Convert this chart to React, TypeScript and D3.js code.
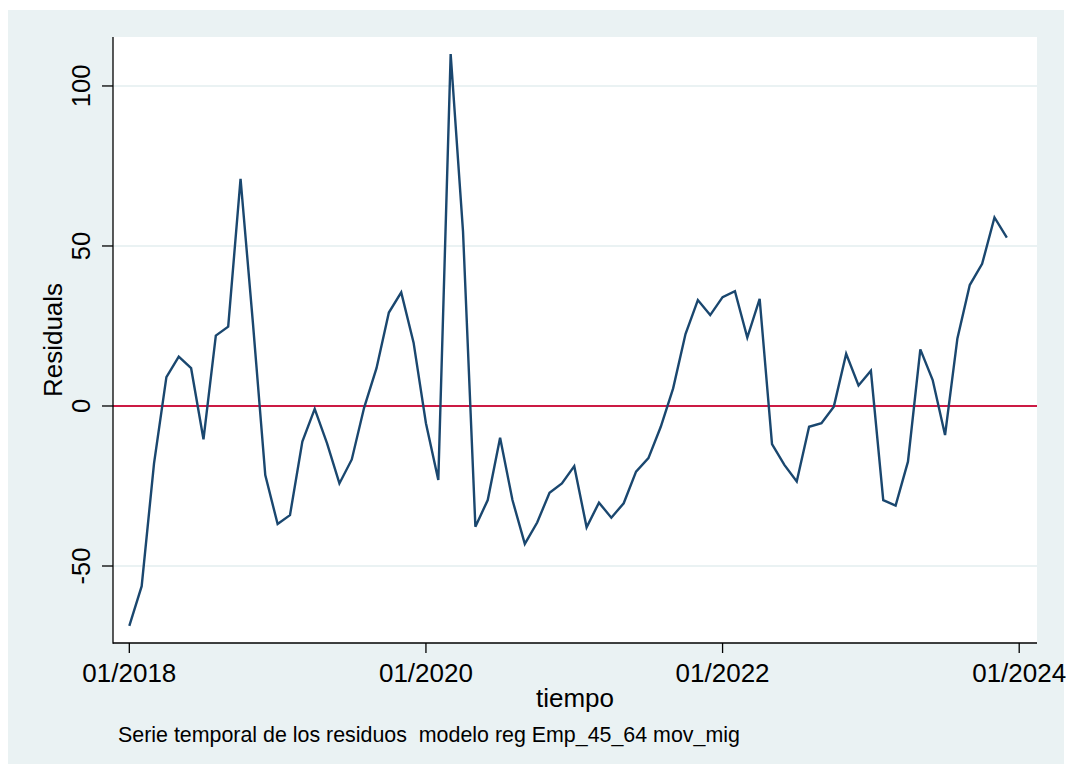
import { useEffect, useRef } from 'react';
import * as d3 from 'd3';

// monthly residuals, 01/2018 .. 12/2023
const residuals = [
  -68.7, -56.3, -17.9, 9.0, 15.4, 11.8, -10.4, 22.0, 24.8, 71.0, 26.0, -21.6,
  -36.9, -34.1, -11.1, -0.9, -11.7, -24.2, -16.7, -0.5, 11.8, 29.2, 35.5, 19.8,
  -5.4, -23.1, 110.0, 54.5, -37.7, -29.4, -9.9, -29.4, -43.1, -36.4, -27.1, -24.2,
  -18.8, -37.9, -30.2, -34.9, -30.4, -20.5, -16.3, -6.5, 5.5, 22.5, 33.1, 28.4,
  34.0, 35.9, 21.4, 33.5, -11.9, -18.4, -23.6, -6.5, -5.4, -0.2, 16.3, 6.4,
  11.0, -29.4, -31.1, -17.4, 17.7, 8.1, -9.1, 21.1, 37.8, 44.4, 58.9, 52.6,
];
const startYear = 2018;
const xTicks = [0, 24, 48, 72]; // months since 01/2018
const yTicks = [-50, 0, 50, 100];
const gridValues = [-50, 50, 100];
const xTitle = 'tiempo';
const yTitle = 'Residuals';
const note = 'Serie temporal de los residuos  modelo reg Emp_45_64 mov_mig';

export default function App() {
  const svgRef = useRef<SVGSVGElement>(null);

  useEffect(() => {
    if (!svgRef.current) return;
    const svg = d3.select(svgRef.current);
    svg.selectAll('*').remove();

    const width = 1066;
    const height = 771;
    const plot = { left: 113, right: 1037, top: 37, bottom: 643 };
    const font = '"Liberation Sans", Arial, Helvetica, sans-serif';

    svg.attr('width', width).attr('height', height).attr('viewBox', `0 0 ${width} ${height}`);

    // outer graph region
    svg.append('rect').attr('x', 8).attr('y', 10).attr('width', 1056).attr('height', 754).attr('fill', '#eaf2f3');
    svg.append('rect')
      .attr('x', plot.left).attr('y', plot.top)
      .attr('width', plot.right - plot.left).attr('height', plot.bottom - plot.top)
      .attr('fill', '#ffffff');

    const x = d3.scaleLinear().domain([-1.32, 73.44]).range([plot.left, plot.right]);
    const y = d3.scaleLinear().domain([-74.06, 115.3]).range([plot.bottom, plot.top]);

    // Gridlines
    svg.append('g')
      .selectAll('line')
      .data(gridValues)
      .join('line')
      .attr('x1', plot.left).attr('x2', plot.right)
      .attr('y1', (d) => y(d)).attr('y2', (d) => y(d))
      .attr('stroke', '#eaf2f3')
      .attr('stroke-width', 2);

    // zero reference line
    svg.append('line')
      .attr('x1', plot.left).attr('x2', plot.right)
      .attr('y1', y(0)).attr('y2', y(0))
      .attr('stroke', '#cc1a44')
      .attr('stroke-width', 2.2);

    // series
    const line = d3.line<number>()
      .x((_, i) => x(i))
      .y((d) => y(d));
    svg.append('path')
      .datum(residuals)
      .attr('d', line)
      .attr('fill', 'none')
      .attr('stroke', '#1a476f')
      .attr('stroke-width', 2.4)
      .attr('stroke-linejoin', 'miter');

    // Axes
    const axes = svg.append('g').attr('stroke', '#000').attr('stroke-width', 1.3);
    axes.append('line').attr('x1', plot.left).attr('x2', plot.left).attr('y1', plot.top).attr('y2', plot.bottom + 0.65);
    axes.append('line').attr('x1', plot.left).attr('x2', plot.right).attr('y1', plot.bottom).attr('y2', plot.bottom);

    yTicks.forEach((t) => {
      axes.append('line').attr('x1', plot.left - 11).attr('x2', plot.left).attr('y1', y(t)).attr('y2', y(t));
      svg.append('text')
        .attr('transform', `translate(90, ${y(t)}) rotate(-90)`)
        .attr('text-anchor', 'middle')
        .attr('font-family', font)
        .attr('font-size', 25.5)
        .attr('fill', '#000')
        .text(String(t));
    });

    xTicks.forEach((t) => {
      axes.append('line').attr('x1', x(t)).attr('x2', x(t)).attr('y1', plot.bottom).attr('y2', plot.bottom + 10);
      const label = `01/${startYear + t / 12}`;
      svg.append('text')
        .attr('x', x(t))
        .attr('y', 682)
        .attr('text-anchor', 'middle')
        .attr('font-family', font)
        .attr('font-size', 26)
        .attr('fill', '#000')
        .text(label);
    });

    // titles
    svg.append('text')
      .attr('x', (plot.left + plot.right) / 2)
      .attr('y', 707)
      .attr('text-anchor', 'middle')
      .attr('font-family', font)
      .attr('font-size', 26)
      .attr('fill', '#000')
      .text(xTitle);

    svg.append('text')
      .attr('transform', `translate(62, ${(plot.top + plot.bottom) / 2}) rotate(-90)`)
      .attr('text-anchor', 'middle')
      .attr('font-family', font)
      .attr('font-size', 26)
      .attr('fill', '#000')
      .text(yTitle);

    svg.append('text')
      .attr('x', 118)
      .attr('y', 742)
      .attr('font-family', font)
      .attr('font-size', 21.4)
      .attr('fill', '#000')
      .style('white-space', 'pre')
      .text(note);
  }, []);

  return <svg ref={svgRef} style={{ position: 'absolute', left: 0, top: 0, display: 'block' }} />;
}
